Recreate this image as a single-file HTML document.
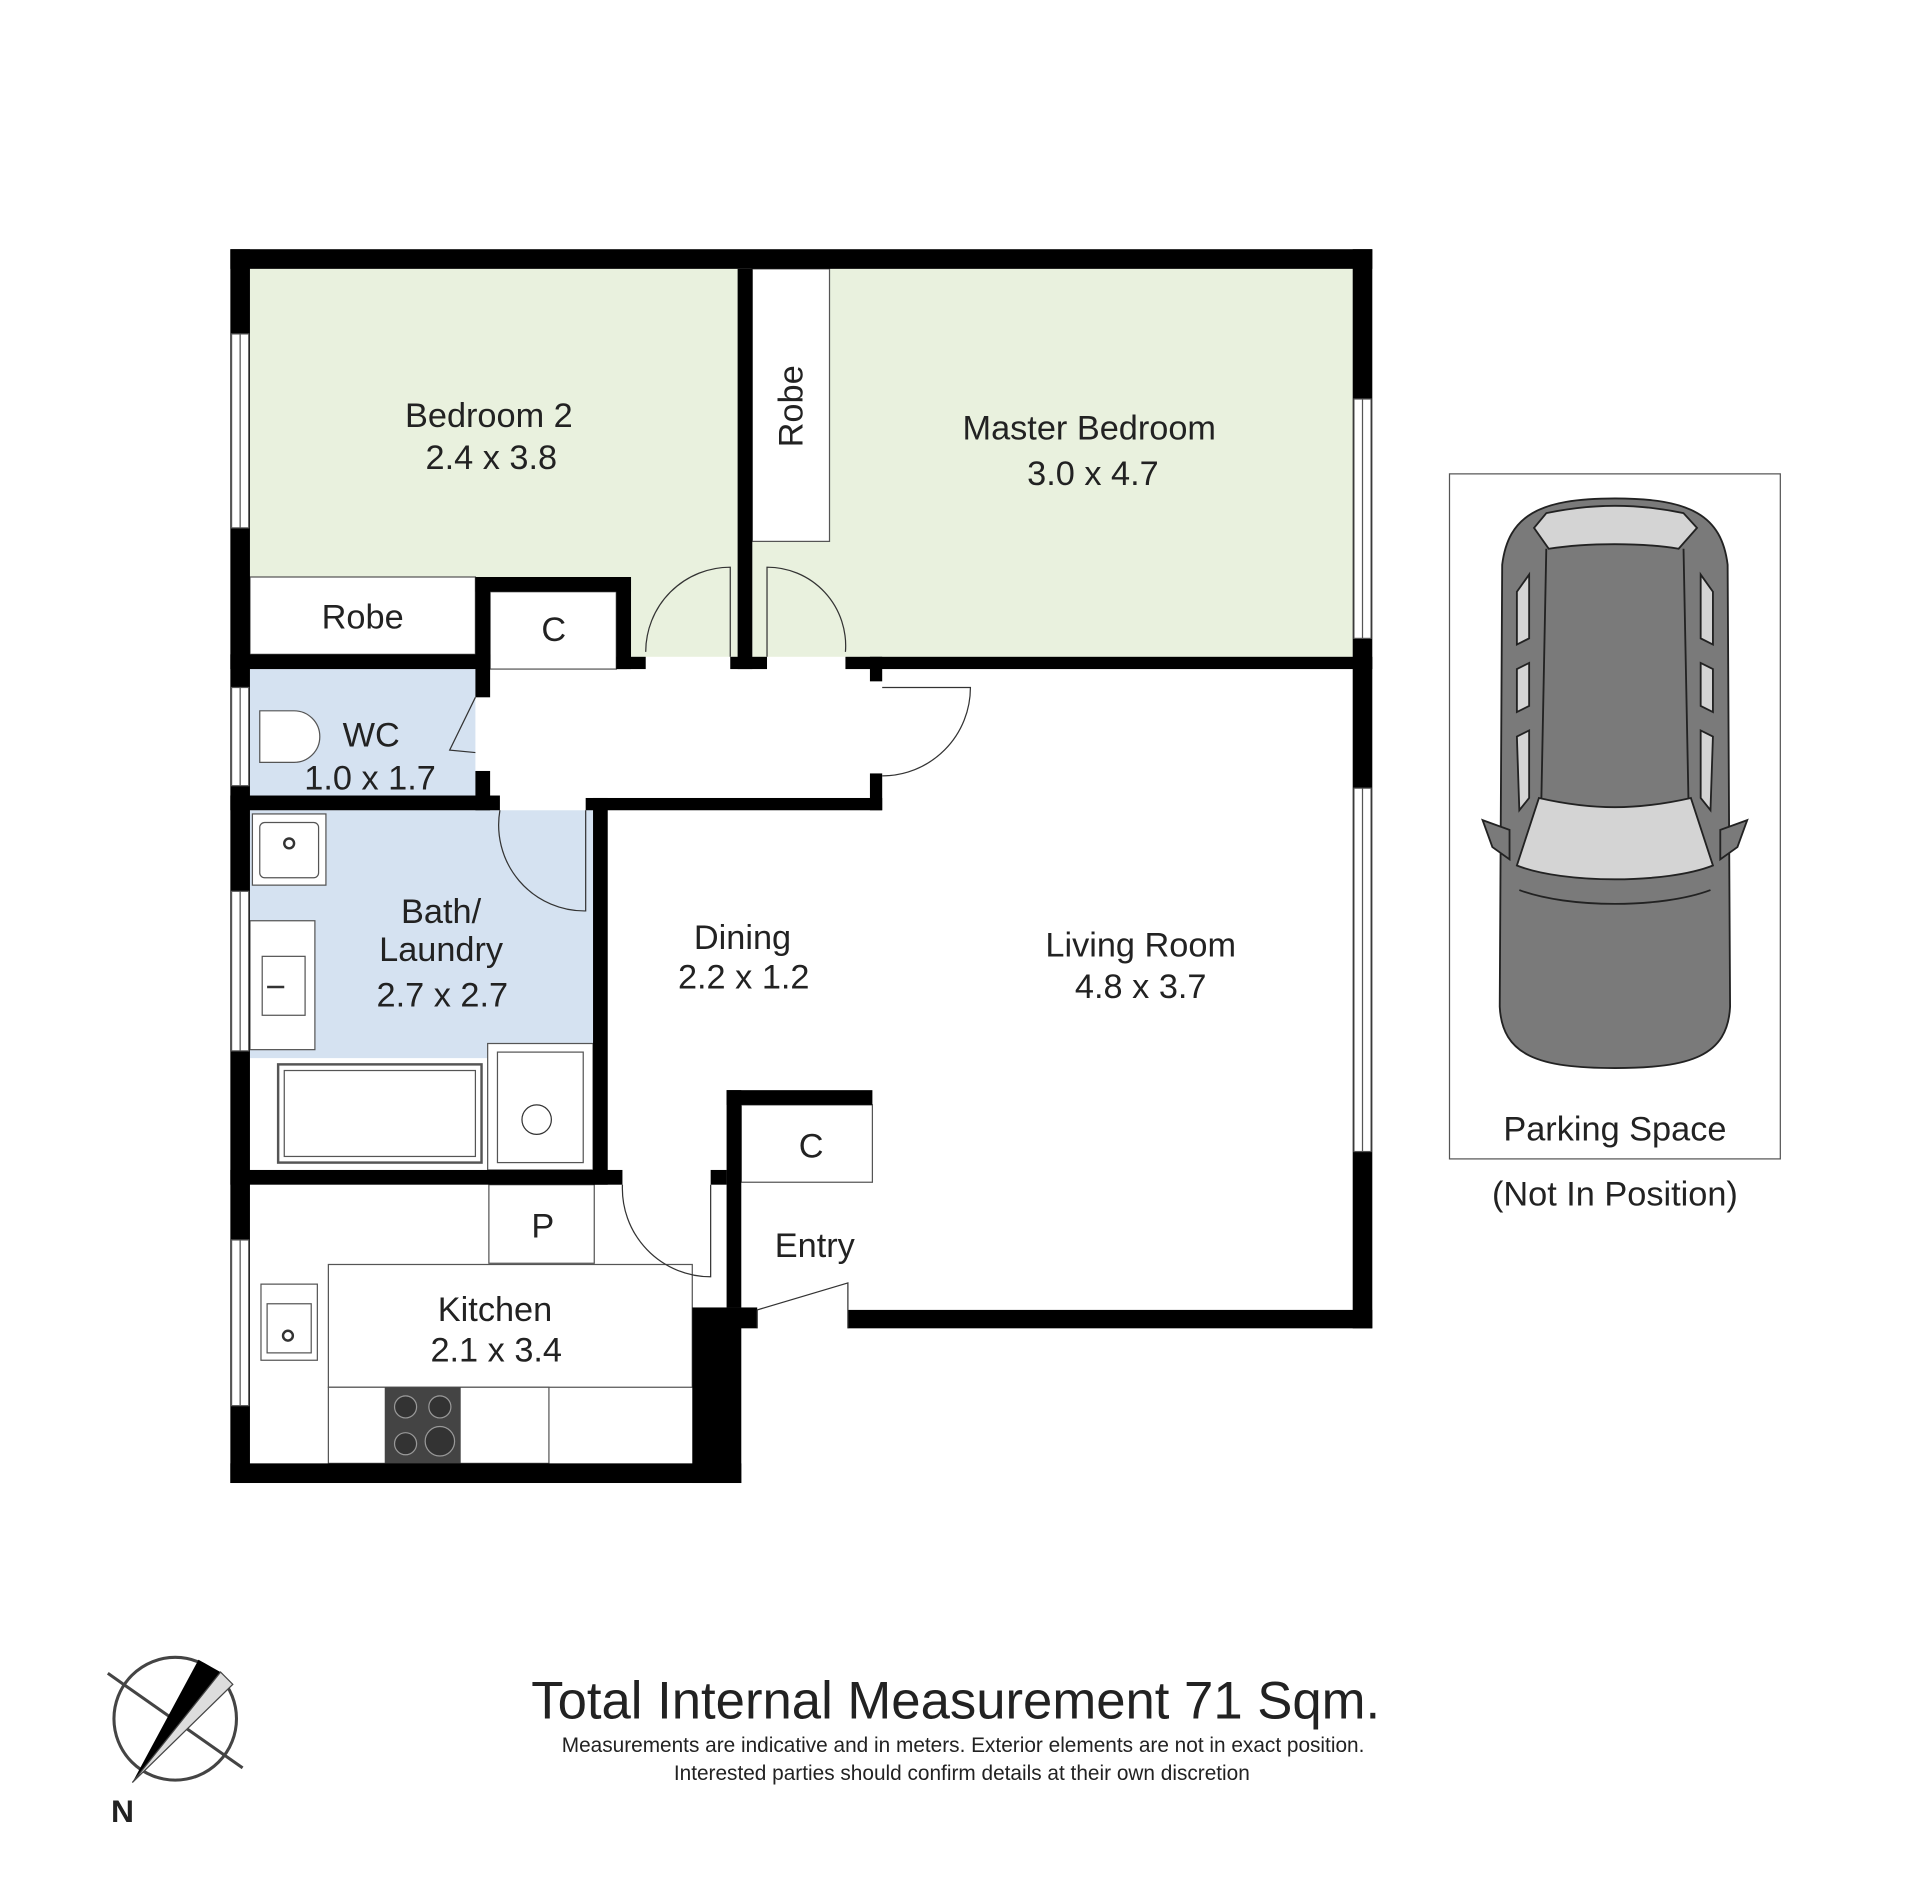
<!DOCTYPE html>
<html><head><meta charset="utf-8"><style>
html,body{margin:0;padding:0;background:#fff;}
svg{display:block;}
text{font-family:"Liberation Sans",sans-serif;fill:#222;}
</style></head><body>
<svg width="1920" height="1882" viewBox="0 0 1567 1533" preserveAspectRatio="none" xmlns="http://www.w3.org/2000/svg">
<rect x="-10" y="-10" width="1600" height="1570" fill="#fff"/>
<rect x="204" y="219" width="398" height="251" fill="#e9f1de"/>
<rect x="515" y="470" width="87" height="65" fill="#e9f1de"/>
<rect x="614" y="219" width="490" height="316" fill="#e9f1de"/>
<rect x="204" y="545" width="184" height="103" fill="#d5e2f1"/>
<rect x="204" y="660" width="280" height="202" fill="#d5e2f1"/>
<rect x="614" y="219" width="63" height="222" fill="#fff" stroke="#555" stroke-width="1"/>
<rect x="204" y="470" width="184" height="63" fill="#fff" stroke="#555" stroke-width="1"/>
<rect x="400" y="482" width="103" height="63" fill="#fff" stroke="#555" stroke-width="1"/>
<rect x="605" y="900" width="107" height="63" fill="#fff" stroke="#555" stroke-width="1"/>
<rect x="399" y="965" width="86" height="64" fill="#fff" stroke="#555" stroke-width="1"/>
<rect x="268" y="1030" width="297" height="100" fill="#fff" stroke="#555" stroke-width="1"/>
<rect x="268" y="1130" width="180" height="62" fill="#fff" stroke="#555" stroke-width="1"/>
<rect x="314" y="1130" width="62" height="62" fill="#444"/>
<circle cx="331" cy="1146" r="9" fill="#333" stroke="#999"/><circle cx="359" cy="1146" r="9" fill="#333" stroke="#999"/>
<circle cx="331" cy="1176" r="9" fill="#333" stroke="#999"/><circle cx="359" cy="1174" r="12" fill="#333" stroke="#999"/>
<rect x="213" y="1046" width="46" height="62" fill="#fff" stroke="#555"/><rect x="218" y="1062" width="36" height="40" fill="#fff" stroke="#555"/><circle cx="235" cy="1088" r="4" fill="none" stroke="#333" stroke-width="2"/>
<rect x="206" y="663" width="60" height="58" fill="#fff" stroke="#555"/><rect x="212" y="670" width="48" height="45" rx="4" fill="#fff" stroke="#555"/><circle cx="236" cy="687" r="4" fill="none" stroke="#333" stroke-width="2"/>
<rect x="204" y="750" width="53" height="105" fill="#fff" stroke="#555"/><rect x="214" y="779" width="35" height="48" fill="#fff" stroke="#555"/><line x1="218" y1="804" x2="232" y2="804" stroke="#333" stroke-width="2"/>
<rect x="204" y="862" width="280" height="91" fill="#fff"/>
<rect x="227" y="867" width="166" height="80" fill="#fff" stroke="#555" stroke-width="2"/><rect x="232" y="872" width="156" height="70" fill="#fff" stroke="#555"/>
<rect x="398" y="850" width="86" height="103" fill="#fff" stroke="#555"/><rect x="406" y="857" width="70" height="90" fill="#fff" stroke="#555"/><circle cx="438" cy="912" r="12" fill="#fff" stroke="#333"/>
<path d="M212 579 H240 A20 20 0 0 1 240 621 H212 Z" fill="#fff" stroke="#555" stroke-width="1"/>
<g fill="#000">
<rect x="188" y="203" width="932" height="16"/>
<rect x="188" y="203" width="16" height="1005"/>
<rect x="1104" y="203" width="16" height="879"/>
<rect x="602" y="219" width="12" height="326"/>
<rect x="188" y="533" width="212" height="12"/>
<rect x="388" y="470" width="12" height="98"/>
<rect x="388" y="628" width="12" height="32"/>
<rect x="388" y="470" width="127" height="12"/>
<rect x="503" y="470" width="12" height="75"/>
<rect x="503" y="535" width="24" height="10"/>
<rect x="596" y="535" width="30" height="10"/>
<rect x="690" y="535" width="430" height="10"/>
<rect x="710" y="535" width="10" height="20"/>
<rect x="710" y="630" width="10" height="30"/>
<rect x="188" y="648" width="220" height="12"/>
<rect x="478" y="650" width="242" height="10"/>
<rect x="484" y="650" width="12" height="315"/>
<rect x="188" y="953" width="320" height="12"/>
<rect x="580" y="953" width="13" height="12"/>
<rect x="593" y="888" width="12" height="177"/>
<rect x="593" y="888" width="119" height="12"/>
<rect x="565" y="1065" width="40" height="143"/>
<rect x="188" y="1192" width="417" height="16"/>
<rect x="593" y="1065" width="25" height="17"/>
<rect x="692" y="1067" width="428" height="15"/>
</g>
<g fill="#fff" stroke="#555" stroke-width="1">
<rect x="189" y="272" width="14" height="158"/><line x1="196" y1="272" x2="196" y2="430"/>
<rect x="189" y="560" width="14" height="80"/><line x1="196" y1="560" x2="196" y2="640"/>
<rect x="189" y="726" width="14" height="130"/><line x1="196" y1="726" x2="196" y2="856"/>
<rect x="189" y="1010" width="14" height="135"/><line x1="196" y1="1010" x2="196" y2="1145"/>
<rect x="1105" y="325" width="14" height="195"/><line x1="1112" y1="325" x2="1112" y2="520"/>
<rect x="1105" y="642" width="14" height="296"/><line x1="1112" y1="642" x2="1112" y2="938"/>
</g>
<g fill="none" stroke="#333" stroke-width="1">
<path d="M596 535 V462 A69 69 0 0 0 527 531"/>
<path d="M626 535 V462 A64 64 0 0 1 690 531"/>
<path d="M720 560 H792 A72 72 0 0 1 720 632"/>
<path d="M388 568 L367 611 L388 613"/>
<path d="M478 660 V742 A70 70 0 0 1 408 660"/>
<path d="M580 965 V1040 A72 72 0 0 1 508 965"/>
<path d="M618 1082 V1067 L692 1045 V1082"/>
</g>
<g font-size="28" text-anchor="middle">
<text x="399" y="348">Bedroom 2</text><text x="401" y="382">2.4 x 3.8</text>
<text x="889" y="358">Master Bedroom</text><text x="892" y="395">3.0 x 4.7</text>
<text x="0" y="0" transform="translate(655,331) rotate(-90)">Robe</text>
<text x="296" y="512">Robe</text>
<text x="452" y="522">C</text>
<text x="303" y="608">WC</text><text x="302" y="643">1.0 x 1.7</text>
<text x="360" y="752">Bath/</text><text x="360" y="783">Laundry</text><text x="361" y="820">2.7 x 2.7</text>
<text x="606" y="773">Dining</text><text x="607" y="805">2.2 x 1.2</text>
<text x="931" y="779">Living Room</text><text x="931" y="813">4.8 x 3.7</text>
<text x="662" y="943">C</text>
<text x="665" y="1024">Entry</text>
<text x="443" y="1008">P</text>
<text x="404" y="1076">Kitchen</text><text x="405" y="1109">2.1 x 3.4</text>
<text x="1318" y="929">Parking Space</text>
<text x="1318" y="982">(Not In Position)</text>
</g>
<rect x="1183" y="386" width="270" height="558" fill="none" stroke="#555" stroke-width="1"/>
<g stroke="#222" stroke-width="1.5">
<path d="M1318 406 C1380 406 1405 420 1410 460 L1412 820 C1410 860 1380 870 1318 870 C1256 870 1226 860 1224 820 L1226 460 C1231 420 1256 406 1318 406 Z" fill="#7a7a7a"/>
<path d="M1262 418 C1300 410 1336 410 1374 418 L1385 430 L1370 447 C1340 442 1296 442 1264 447 L1252 430 Z" fill="#d4d4d4"/>
<path d="M1256 650 C1300 660 1336 660 1380 650 L1398 705 C1360 720 1276 720 1238 705 Z" fill="#d4d4d4"/>
<path d="M1238 482 L1248 468 L1248 520 L1238 525 Z M1238 545 L1248 540 L1248 575 L1238 580 Z M1238 600 L1248 595 L1248 650 L1240 660 Z" fill="#d4d4d4"/>
<path d="M1398 482 L1388 468 L1388 520 L1398 525 Z M1398 545 L1388 540 L1388 575 L1398 580 Z M1398 600 L1388 595 L1388 650 L1396 660 Z" fill="#d4d4d4"/>
<path d="M1210 668 L1232 676 L1232 700 L1218 690 Z M1426 668 L1404 676 L1404 700 L1418 690 Z" fill="#7a7a7a"/>
<path d="M1240 725 C1280 740 1356 740 1396 725" fill="none"/>
<path d="M1262 447 L1258 650 M1374 447 L1378 650" fill="none"/>
</g>
<text x="780" y="1400" font-size="43" text-anchor="middle">Total Internal Measurement 71 Sqm.</text>
<text x="786" y="1427" font-size="17" text-anchor="middle">Measurements are indicative and in meters. Exterior elements are not in exact position.</text>
<text x="785" y="1450" font-size="17" text-anchor="middle">Interested parties should confirm details at their own discretion</text>
<g>
<circle cx="143" cy="1400" r="50" fill="none" stroke="#444" stroke-width="2.5"/>
<line x1="88" y1="1363" x2="198" y2="1440" stroke="#444" stroke-width="2.5"/>
<path d="M108 1452 L162 1352 L180 1362 Z" fill="#000"/>
<path d="M108 1452 L180 1362 L190 1372 Z" fill="#ddd" stroke="#444"/>
<text x="100" y="1484" font-size="26" font-weight="bold" text-anchor="middle">N</text>
</g>
</svg>
</body></html>
